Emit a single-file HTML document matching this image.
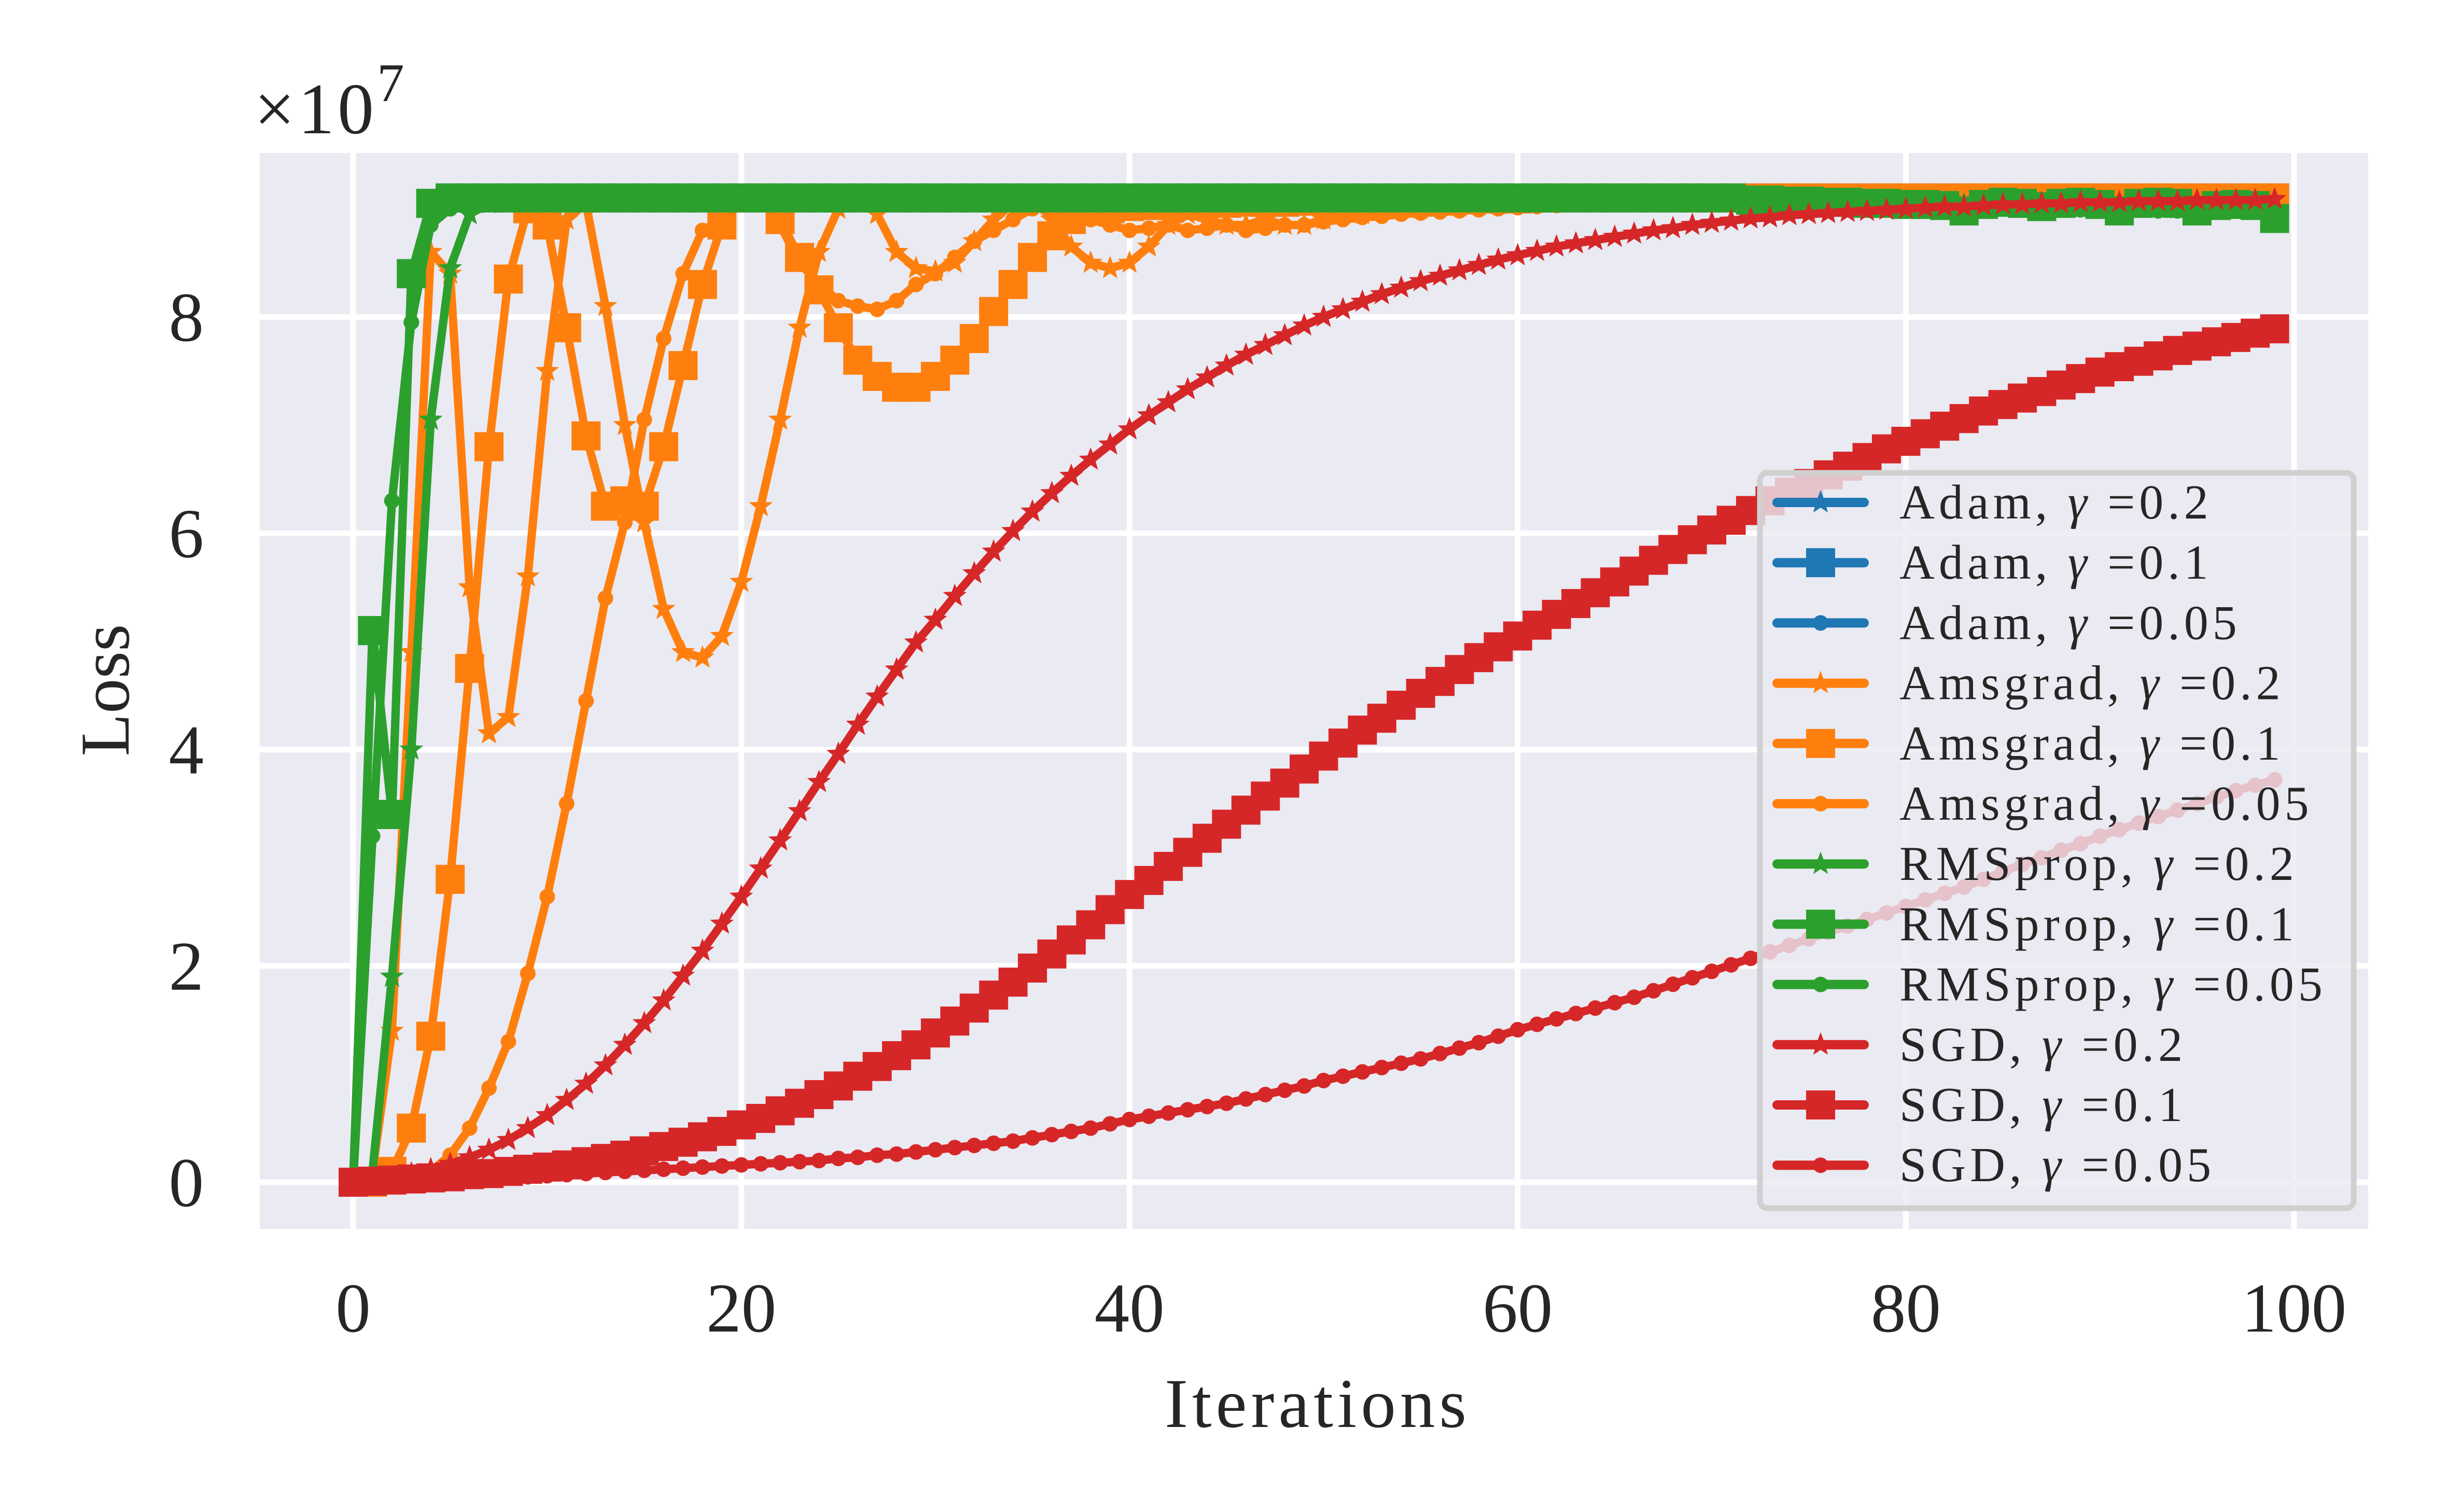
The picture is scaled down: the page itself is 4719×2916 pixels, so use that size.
<!DOCTYPE html>
<html><head><meta charset="utf-8"><style>
html,body{margin:0;padding:0;background:#fff;}
svg{display:block;font-family:"Liberation Serif","DejaVu Serif",serif;}
</style></head><body>
<svg id="chart" width="4719" height="2916" viewBox="0 0 4719 2916" xmlns="http://www.w3.org/2000/svg">
<rect x="0" y="0" width="4719" height="2916" fill="#ffffff"/>
<rect x="501" y="295" width="4066" height="2075" fill="#eaeaf2"/>
<g id="grid"></g>
<g id="series"></g>
<g id="ticks" fill="#262626" font-size="135"></g>
<text x="490" y="257" font-size="140" fill="#262626" letter-spacing="6">×10<tspan font-size="105" dy="-62">7</tspan></text>
<text x="2541" y="2752" font-size="135" fill="#262626" text-anchor="middle" letter-spacing="8">Iterations</text>
<text transform="translate(248,1331) rotate(-90)" font-size="135" fill="#262626" text-anchor="middle">Loss</text>
<g id="legend"></g>
</svg>
<script>
const xTicks = [0,20,40,60,80,100];
const yTicks = [0,2,4,6,8];
const seriesNames = ["Adam, γ =0.2","Adam, γ =0.1","Adam, γ =0.05","Amsgrad, γ =0.2","Amsgrad, γ =0.1","Amsgrad, γ =0.05","RMSprop, γ =0.2","RMSprop, γ =0.1","RMSprop, γ =0.05","SGD, γ =0.2","SGD, γ =0.1","SGD, γ =0.05"];
const seriesColors = ["#1f77b4","#1f77b4","#1f77b4","#ff7f0e","#ff7f0e","#ff7f0e","#2ca02c","#2ca02c","#2ca02c","#d62728","#d62728","#d62728"];
const seriesMarkers = ["star","square","circle","star","square","circle","star","square","circle","star","square","circle"];

const adam02 = [0,0.1,1.9,4.0,7.05,8.45,8.95,9.05,9.1,9.1,9.1,9.1,9.1,9.1,9.1,9.1,9.1,9.1,9.1,9.1,9.1,9.1,9.1,9.1,9.1,9.1,9.1,9.1,9.1,9.1,9.1,9.1,9.1,9.1,9.1,9.1,9.1,9.1,9.1,9.1,9.1,9.1,9.1,9.1,9.1,9.1,9.1,9.1,9.1,9.1,9.1,9.1,9.1,9.1,9.1,9.1,9.1,9.1,9.1,9.1,9.1,9.1,9.1,9.1,9.1,9.1,9.1,9.1,9.1,9.1,9.1,9.1,9.1,9.1,9.1,9.1,9.1,9.1,9.1,9.1,9.1,9.1,9.1,9.1,9.1,9.1,9.1,9.1,9.1,9.1,9.1,9.1,9.1,9.1,9.1,9.1,9.1,9.1,9.1,9.1];
const adam01 = [0,5.1,3.4,8.4,9.05,9.1,9.1,9.1,9.1,9.1,9.1,9.1,9.1,9.1,9.1,9.1,9.1,9.1,9.1,9.1,9.1,9.1,9.1,9.1,9.1,9.1,9.1,9.1,9.1,9.1,9.1,9.1,9.1,9.1,9.1,9.1,9.1,9.1,9.1,9.1,9.1,9.1,9.1,9.1,9.1,9.1,9.1,9.1,9.1,9.1,9.1,9.1,9.1,9.1,9.1,9.1,9.1,9.1,9.1,9.1,9.1,9.1,9.1,9.1,9.1,9.1,9.1,9.1,9.1,9.1,9.1,9.1,9.1,9.1,9.1,9.1,9.1,9.1,9.1,9.1,9.1,9.1,9.1,9.1,9.1,9.1,9.1,9.1,9.1,9.1,9.1,9.1,9.1,9.1,9.1,9.1,9.1,9.1,9.1,9.1];
const adam005 = [0,3.2,6.3,7.95,8.85,9.0,9.05,9.1,9.1,9.1,9.1,9.1,9.1,9.1,9.1,9.1,9.1,9.1,9.1,9.1,9.1,9.1,9.1,9.1,9.1,9.1,9.1,9.1,9.1,9.1,9.1,9.1,9.1,9.1,9.1,9.1,9.1,9.1,9.1,9.1,9.1,9.1,9.1,9.1,9.1,9.1,9.1,9.1,9.1,9.1,9.1,9.1,9.1,9.1,9.1,9.1,9.1,9.1,9.1,9.1,9.1,9.1,9.1,9.1,9.1,9.1,9.1,9.1,9.1,9.1,9.1,9.1,9.1,9.1,9.1,9.1,9.1,9.1,9.1,9.1,9.1,9.1,9.1,9.1,9.1,9.1,9.1,9.1,9.1,9.1,9.1,9.1,9.1,9.1,9.1,9.1,9.1,9.1,9.1,9.1];

const ams02 = [0,0.1,1.4,4.9,8.6,8.4,5.5,4.15,4.3,5.6,7.5,8.9,9.05,8.1,7.0,6.1,5.3,4.9,4.85,5.05,5.55,6.25,7.05,7.9,8.6,9.0,9.1,8.95,8.6,8.45,8.42,8.5,8.7,8.9,9.05,9.1,8.9,8.65,8.5,8.45,8.5,8.65,8.85,8.95,8.9,8.85,8.85,8.9,8.85,8.85,8.9,8.95,8.95,9.0,9.0,9.0,9.02,9.02,9.03,9.04,9.05,9.05,9.06,9.06,9.07,9.07,9.08,9.08,9.08,9.09,9.09,9.09,9.1,9.1,9.1,9.1,9.1,9.1,9.1,9.1,9.1,9.1,9.1,9.1,9.1,9.1,9.1,9.1,9.1,9.1,9.1,9.1,9.1,9.1,9.1,9.1,9.1,9.1,9.1,9.1];
const ams01 = [0,0,0.1,0.5,1.35,2.8,4.75,6.8,8.35,9.0,8.85,7.9,6.9,6.25,6.3,6.25,6.8,7.55,8.3,8.85,9.1,9.1,8.9,8.55,8.25,7.9,7.6,7.45,7.35,7.35,7.45,7.6,7.8,8.05,8.3,8.55,8.75,8.9,9.0,9.0,9.02,9.03,9.04,9.05,9.05,9.05,9.06,9.06,9.06,9.07,9.07,9.07,9.08,9.08,9.08,9.08,9.09,9.09,9.09,9.09,9.09,9.1,9.1,9.1,9.1,9.1,9.1,9.1,9.1,9.1,9.1,9.1,9.1,9.1,9.1,9.1,9.1,9.1,9.1,9.1,9.1,9.1,9.1,9.1,9.1,9.1,9.1,9.1,9.1,9.1,9.1,9.1,9.1,9.1,9.1,9.1,9.1,9.1,9.1,9.1];
const ams005 = [0,0,0.02,0.05,0.1,0.25,0.5,0.87,1.3,1.93,2.64,3.5,4.45,5.4,6.1,7.05,7.8,8.4,8.8,8.9,9.05,9.1,8.85,8.5,8.3,8.15,8.1,8.07,8.15,8.3,8.4,8.55,8.7,8.8,8.9,9.0,9.0,8.95,8.9,8.85,8.8,8.82,8.85,8.8,8.82,8.85,8.8,8.82,8.85,8.85,8.88,8.9,8.92,8.93,8.95,8.96,8.97,8.98,8.99,9.0,9.01,9.02,9.03,9.04,9.05,9.05,9.06,9.06,9.07,9.07,9.08,9.08,9.08,9.09,9.09,9.09,9.1,9.1,9.1,9.1,9.1,9.1,9.1,9.1,9.1,9.1,9.1,9.1,9.1,9.1,9.1,9.1,9.1,9.1,9.1,9.1,9.1,9.1,9.1,9.1];

const rms02 = [0,0.1,1.9,4.0,7.05,8.45,8.95,9.05,9.1,9.1,9.1,9.1,9.1,9.1,9.1,9.1,9.1,9.1,9.1,9.1,9.1,9.1,9.1,9.1,9.1,9.1,9.1,9.1,9.1,9.1,9.1,9.1,9.1,9.1,9.1,9.1,9.1,9.1,9.1,9.1,9.1,9.1,9.1,9.1,9.1,9.1,9.1,9.1,9.1,9.1,9.1,9.1,9.1,9.1,9.1,9.1,9.1,9.1,9.1,9.1,9.1,9.1,9.1,9.1,9.1,9.1,9.1,9.1,9.1,9.1,9.1,9.09,9.09,9.08,9.08,9.08,9.07,9.07,9.06,9.06,9.05,9.05,9.05,9.04,9.04,9.03,9.03,9.03,9.02,9.02,9.02,9.01,9.01,9.01,9.0,9.0,9.0,9.0,9.0,8.99];
const rms01 = [0,5.1,3.4,8.4,9.05,9.1,9.1,9.1,9.1,9.1,9.1,9.1,9.1,9.1,9.1,9.1,9.1,9.1,9.1,9.1,9.1,9.1,9.1,9.1,9.1,9.1,9.1,9.1,9.1,9.1,9.1,9.1,9.1,9.1,9.1,9.1,9.1,9.1,9.1,9.1,9.1,9.1,9.1,9.1,9.1,9.1,9.1,9.1,9.1,9.1,9.1,9.1,9.1,9.1,9.1,9.1,9.1,9.1,9.1,9.1,9.1,9.1,9.1,9.1,9.1,9.1,9.1,9.1,9.1,9.1,9.1,9.1,9.08,9.08,9.07,9.07,9.06,9.06,9.05,9.05,9.04,9.04,9.03,8.98,9.04,9.06,9.05,9.02,9.05,9.06,9.04,8.98,9.05,9.06,9.05,8.98,9.03,9.04,9.03,8.91];
const rms005 = [0,3.2,6.3,7.95,8.85,9.0,9.05,9.1,9.1,9.1,9.1,9.1,9.1,9.1,9.1,9.1,9.1,9.1,9.1,9.1,9.1,9.1,9.1,9.1,9.1,9.1,9.1,9.1,9.1,9.1,9.1,9.1,9.1,9.1,9.1,9.1,9.1,9.1,9.1,9.1,9.1,9.1,9.1,9.1,9.1,9.1,9.1,9.1,9.1,9.1,9.1,9.1,9.1,9.1,9.1,9.1,9.1,9.1,9.1,9.1,9.1,9.1,9.1,9.1,9.1,9.1,9.1,9.1,9.1,9.1,9.1,9.09,9.08,9.07,9.06,9.05,9.05,9.04,9.04,9.03,9.03,9.02,9.02,9.01,9.01,9.0,9.0,9.0,9.0,8.99,8.99,8.99,8.99,8.98,8.98,8.98,8.98,8.98,8.98,8.97];

const sgd02 = [0,0.02,0.05,0.08,0.12,0.17,0.23,0.30,0.39,0.50,0.62,0.76,0.91,1.08,1.27,1.47,1.68,1.91,2.14,2.39,2.64,2.90,3.16,3.43,3.70,3.96,4.23,4.49,4.74,4.99,5.20,5.42,5.63,5.83,6.02,6.20,6.37,6.53,6.68,6.82,6.96,7.09,7.21,7.33,7.44,7.55,7.65,7.74,7.83,7.92,8.00,8.07,8.14,8.21,8.27,8.33,8.38,8.43,8.48,8.53,8.57,8.61,8.65,8.68,8.71,8.74,8.77,8.80,8.82,8.85,8.87,8.89,8.91,8.92,8.94,8.95,8.96,8.97,8.98,8.99,9.00,9.01,9.02,9.02,9.03,9.04,9.04,9.05,9.05,9.06,9.06,9.06,9.07,9.07,9.07,9.08,9.08,9.08,9.08,9.09];
const sgd01 = [0,0.01,0.02,0.03,0.04,0.05,0.07,0.08,0.10,0.12,0.14,0.16,0.19,0.22,0.25,0.29,0.33,0.37,0.42,0.47,0.53,0.59,0.66,0.73,0.81,0.89,0.98,1.07,1.17,1.27,1.38,1.49,1.61,1.73,1.85,1.98,2.11,2.24,2.38,2.52,2.66,2.79,2.92,3.05,3.18,3.31,3.44,3.57,3.69,3.82,3.94,4.06,4.18,4.29,4.41,4.52,4.63,4.74,4.85,4.95,5.05,5.15,5.25,5.35,5.45,5.55,5.65,5.75,5.85,5.94,6.03,6.12,6.21,6.30,6.38,6.46,6.54,6.62,6.70,6.78,6.85,6.92,6.99,7.06,7.13,7.19,7.25,7.31,7.37,7.43,7.49,7.54,7.59,7.64,7.69,7.73,7.77,7.81,7.85,7.89];
const sgd005 = [0,0.01,0.01,0.02,0.02,0.03,0.03,0.04,0.05,0.05,0.06,0.07,0.08,0.09,0.10,0.11,0.12,0.13,0.14,0.15,0.16,0.17,0.18,0.19,0.20,0.22,0.23,0.25,0.26,0.28,0.30,0.32,0.34,0.36,0.38,0.41,0.44,0.47,0.50,0.54,0.58,0.61,0.64,0.67,0.70,0.73,0.77,0.81,0.85,0.89,0.94,0.98,1.02,1.06,1.10,1.14,1.19,1.24,1.29,1.35,1.41,1.46,1.51,1.56,1.61,1.66,1.71,1.77,1.83,1.89,1.95,2.01,2.07,2.13,2.19,2.25,2.31,2.37,2.43,2.49,2.55,2.61,2.67,2.73,2.80,2.87,2.94,3.00,3.07,3.13,3.20,3.26,3.32,3.38,3.44,3.50,3.56,3.62,3.67,3.72];

const seriesData = [adam02,adam01,adam005,ams02,ams01,ams005,rms02,rms01,rms005,sgd02,sgd01,sgd005];

const NS = "http://www.w3.org/2000/svg";
const X0 = 681, XS = 37.43, Y0 = 2280, YS = 208.6;
function xScale(v){ return X0 + v*XS; }
function yScale(v){ return Y0 - v*YS; }
function mk(tag, attrs, parent){
  const e = document.createElementNS(NS, tag);
  for (const k in attrs) e.setAttribute(k, attrs[k]);
  parent.appendChild(e);
  return e;
}

const grid = document.getElementById('grid');
xTicks.forEach(t => {
  const l = mk('line', {x1:xScale(t), x2:xScale(t), y1:295, y2:2370, stroke:'#ffffff', 'stroke-width':11}, grid);
  
  
});
yTicks.forEach(t => {
  const l = mk('line', {x1:501, x2:4567, y1:yScale(t), y2:yScale(t), stroke:'#ffffff', 'stroke-width':11}, grid);
  
  
});
const ticks = document.getElementById('ticks');
xTicks.forEach(t => {
  const tx = mk('text', {x:xScale(t), y:2568, 'text-anchor':'middle'}, ticks);
  tx.textContent = String(t);
  
  
});
yTicks.forEach(t => {
  const tx = mk('text', {x:393, y:yScale(t)+46, 'text-anchor':'end'}, ticks);
  tx.textContent = String(t);
  
  
});

function starPath(cx, cy, r){
  let d = '';
  for (let i=0;i<10;i++){
    const rr = i%2===0 ? r : r*0.42;
    const a = -Math.PI/2 + i*Math.PI/5;
    d += (i===0?'M':'L') + (cx+rr*Math.cos(a)).toFixed(1) + ',' + (cy+rr*Math.sin(a)).toFixed(1);
  }
  return d + 'Z';
}
function drawMarker(kind, cx, cy, color, parent){
  let m;
  if (kind === 'square') m = mk('rect', {x:cx-28, y:cy-28, width:56, height:56, fill:color}, parent);
  else if (kind === 'circle') m = mk('circle', {cx:cx, cy:cy, r:15, fill:color}, parent);
  else m = mk('path', {d:starPath(cx, cy, 24), fill:color}, parent);
  return m;
}

const sg = document.getElementById('series');
seriesData.forEach((data, si) => {
  const g = mk('g', {}, sg);
  
  
  const pts = data.map((v,i) => xScale(i).toFixed(1) + ',' + yScale(v).toFixed(1)).join(' ');
  const pl = mk('polyline', {points:pts, fill:'none', stroke:seriesColors[si], 'stroke-width':16, 'stroke-linejoin':'round', 'stroke-linecap':'round'}, g);
  
  
  data.forEach((v,i) => {
    const m = drawMarker(seriesMarkers[si], xScale(i), yScale(v), seriesColors[si], g);
    
    
  });
});

const lg = document.getElementById('legend');


const box = mk('rect', {x:3394, y:912, width:1145, height:1418, rx:14, fill:'#eaeaf2', 'fill-opacity':0.8, stroke:'#d0d0d0', 'stroke-width':11}, lg);


seriesNames.forEach((name, i) => {
  const cy = 969 + i*116.2;
  const e = mk('g', {}, lg);
  
  
  mk('line', {x1:3427, x2:3595, y1:cy, y2:cy, stroke:seriesColors[i], 'stroke-width':18, 'stroke-linecap':'round'}, e);
  drawMarker(seriesMarkers[i], 3511, cy, seriesColors[i], e);
  const parts = name.split('γ');
  const t = mk('text', {x:3663, y:cy+31, 'font-size':94, fill:'#262626', 'letter-spacing':8}, e);
  
  
  const a = mk('tspan', {}, t); a.textContent = parts[0];
  const b = mk('tspan', {'font-style':'italic'}, t); b.textContent = 'γ';
  const c = mk('tspan', {}, t); c.textContent = ' ' + parts[1];
});
</script>
</body></html>
